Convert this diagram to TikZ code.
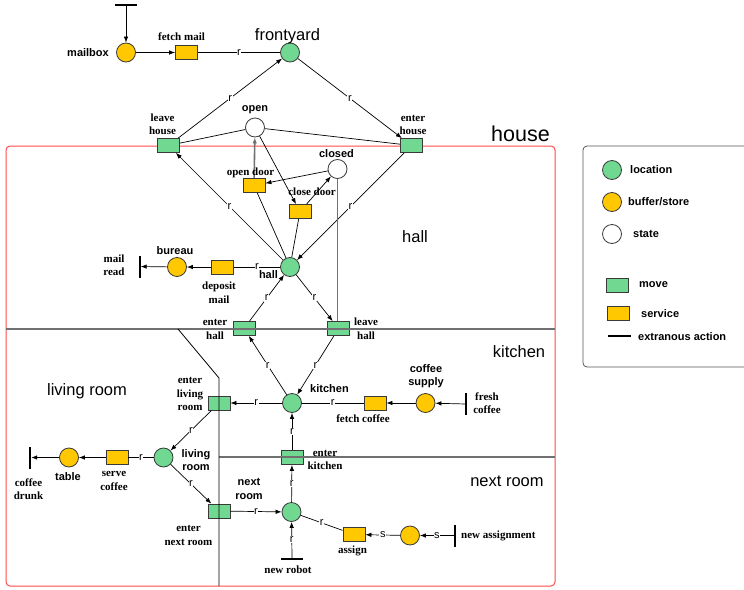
\documentclass[tikz,border=0pt]{standalone}
\usepackage{fontspec}
\setmainfont{Liberation Serif}
\setsansfont{Liberation Sans}
\usetikzlibrary{arrows.meta}

\definecolor{locgreen}{HTML}{70D890}
\definecolor{bufyellow}{HTML}{FFC800}
\definecolor{nodeborder}{HTML}{3A3A3A}
\definecolor{houseRed}{HTML}{FF4A4A}
\definecolor{wallgray}{HTML}{707070}
\definecolor{legendgray}{HTML}{555555}

\tikzset{
  place/.style={circle, draw=nodeborder, line width=0.8pt, minimum size=19pt, inner sep=0pt},
  locplace/.style={place, fill=locgreen},
  bufplace/.style={place, fill=bufyellow},
  stateplace/.style={place, fill=white},
  trans/.style={rectangle, draw=nodeborder, line width=0.8pt, minimum width=22pt, minimum height=14pt, inner sep=0pt},
  movetrans/.style={trans, fill=locgreen},
  servtrans/.style={trans, fill=bufyellow},
  hbar/.style={rectangle, fill=black, minimum width=22pt, minimum height=2pt, inner sep=0pt},
  vbar/.style={rectangle, fill=black, minimum width=2pt, minimum height=22pt, inner sep=0pt},
  placelbl/.style={font=\fontsize{11}{13.5}\selectfont\sffamily\bfseries, align=center, inner sep=0pt},
  translbl/.style={font=\fontsize{11}{13.5}\selectfont\rmfamily\bfseries, align=center, inner sep=0pt},
  region/.style={font=\fontsize{16.5}{18}\selectfont\sffamily, inner sep=0pt},
  arc/.style={line width=0.7pt, -{Latex[length=6pt,width=4.5pt]}},
  link/.style={line width=0.7pt},
  rlbl/.style={fill=white, inner sep=0.6pt, font=\fontsize{11}{11}\selectfont\sffamily},
  wall/.style={draw=wallgray, line width=1.3pt},
}

\begin{document}
\begin{tikzpicture}[x=1pt, y=-1pt]
\useasboundingbox (0,0) rectangle (744,589);

% house outline
\draw[houseRed, line width=1pt, rounded corners=4pt] (6,146) rectangle (555,586);

% ---------- places ----------
\node[bufplace]   (mailbox)   at (126,52.5) {};
\node[locplace]   (frontyard) at (290,52.5) {};
\node[stateplace] (open)      at (255,127.5) {};
\node[stateplace] (closed)    at (337.5,169) {};
\node[locplace]   (hall)      at (290,267) {};
\node[bufplace]   (bureau)    at (177,267) {};
\node[locplace]   (kitchen)   at (292,403) {};
\node[bufplace]   (coffeesup) at (425.5,403) {};
\node[locplace]   (living)    at (163.5,457.5) {};
\node[bufplace]   (table)     at (69,457.5) {};
\node[locplace]   (nextroom)  at (291.5,512) {};
\node[bufplace]   (assignbuf) at (410,535.5) {};

% ---------- transitions ----------
\node[servtrans] (fetchmail)  at (186.5,52.5) {};
\node[movetrans] (leavehouse) at (168.5,145.5) {};
\node[movetrans] (enterhouse) at (411.5,145.5) {};
\node[servtrans] (opendoor)   at (254,185.5) {};
\node[servtrans] (closedoor)  at (300,211.5) {};
\node[servtrans] (depositmail) at (222.5,267) {};
\node[movetrans] (enterhall)  at (244,328.5) {};
\node[movetrans] (leavehall)  at (338.5,328.5) {};
\node[movetrans] (enterliving) at (219,403) {};
\node[servtrans] (fetchcoffee) at (375,403) {};
\node[movetrans] (enterkitchen) at (292,457.5) {};
\node[servtrans] (servecoffee) at (117,457.5) {};
\node[movetrans] (enternext)  at (219,511) {};
\node[servtrans] (assign)     at (354,534.5) {};

% ---------- extraneous actions ----------
\node[hbar] (mailin)    at (126,5) {};
\node[vbar] (mailread)  at (139.5,266.5) {};
\node[vbar] (freshcof)  at (466,404) {};
\node[vbar] (cofdrunk)  at (30,457.5) {};
\node[hbar] (newrobot)  at (292,559) {};
\node[vbar] (newassign) at (455,535.5) {};

% ---------- connectors ----------
\draw[arc] (mailin) -- (mailbox);
\draw[arc] (mailbox) -- (fetchmail);
\draw[link] (fetchmail) -- node[rlbl]{r} (frontyard);
\draw[arc] (leavehouse) -- node[rlbl]{r} (frontyard);
\draw[arc] (frontyard) -- node[rlbl]{r} (enterhouse);
\draw[link] (leavehouse) -- (open);
\draw[link] (open) -- (enterhouse);
\draw[arc] (hall) -- node[rlbl]{r} (leavehouse);
\draw[arc] (enterhouse) -- node[rlbl]{r} (hall);

\draw[arc] (closed) -- (opendoor);
\draw[arc, draw=wallgray, line width=1.6pt] (opendoor) -- (open);
\draw[arc] (open) -- (closedoor);
\draw[arc] (closedoor) -- (closed);
\draw[link] (opendoor) -- (hall);
\draw[link] (closedoor) -- (hall);
\draw[draw=wallgray, line width=1.1pt] (closed.south) -- (closed.south |- leavehall.north);

\draw[link] (hall) -- node[rlbl]{r} (depositmail);
\draw[arc] (depositmail) -- (bureau);
\draw[arc] (bureau) -- (mailread);

\draw[arc] (enterhall) -- node[rlbl]{r} (hall);
\draw[arc] (hall) -- node[rlbl]{r} (leavehall);
\draw[arc] (kitchen) -- node[rlbl]{r} (enterhall);
\draw[arc] (leavehall) -- node[rlbl]{r} (kitchen);

\draw[arc] (kitchen) -- node[rlbl]{r} (enterliving);
\draw[link] (fetchcoffee) -- node[rlbl]{r} (kitchen);
\draw[arc] (coffeesup) -- (fetchcoffee);
\draw[arc] (freshcof) -- (coffeesup);

\draw[arc] (enterliving) -- node[rlbl]{r} (living);
\draw[arc] (enterkitchen) -- node[rlbl]{r} (kitchen);
\draw[link] (living) -- node[rlbl]{r} (servecoffee);
\draw[arc] (servecoffee) -- (table);
\draw[arc] (table) -- (cofdrunk);

\draw[arc] (living) -- node[rlbl]{r} (enternext);
\draw[arc] (enternext) -- node[rlbl]{r} (nextroom);
\draw[arc] (nextroom) -- node[rlbl]{r} (enterkitchen);
\draw[arc] (newrobot) -- node[rlbl]{r} (nextroom);
\draw[link] (nextroom) -- node[rlbl]{r} (assign);
\draw[arc] (assignbuf) -- node[rlbl]{s} (assign);
\draw[arc] (newassign) -- node[rlbl]{s} (assignbuf);

% ---------- room walls ----------
\draw[wall] (6,329) -- (555,329);
\draw[wall] (219,457) -- (555,457);
\draw[line width=0.8pt] (178,329) -- (219,378) -- (219,586);

% ---------- labels ----------
\node[placelbl, anchor=east] (lmailbox) at (109,53) {mailbox};
\node[translbl] (lfetchmail) at (181.5,37) {fetch mail};
\node[region] (lfrontyard) at (287.5,36) {frontyard};
\node[translbl] (lleavehouse) at (162.5,124) {leave\\house};
\node[translbl] (lenterhouse) at (413,125) {enter\\house};
\node[placelbl] (lopen) at (255,110) {open};
\node[region, font=\fontsize{21.5}{24}\selectfont\sffamily] (lhouse) at (520.5,134) {house};
\node[placelbl] (lclosed) at (336.5,154) {closed};
\node[translbl] (lopendoor) at (250.5,173) {open door};
\node[translbl] (lclosedoor) at (312,192) {close door};
\node[placelbl] (lhall) at (268.5,275) {hall};
\node[region] (rhall) at (415,237) {hall};
\node[placelbl] (lbureau) at (175,251) {bureau};
\node[translbl] (ldeposit) at (219,292.5) {deposit\\mail};
\node[translbl] (lmailread) at (114,265) {mail\\read};
\node[translbl] (lenterhall) at (215,329.5) {enter\\hall};
\node[translbl] (lleavehall) at (366,328.5) {leave\\hall};
\node[region] (rkitchen) at (519,352) {kitchen};
\node[placelbl] (lkitchen) at (329.5,389) {kitchen};
\node[translbl] (lenterliving) at (190,394) {enter\\living\\room};
\node[translbl] (lfetchcoffee) at (363,419) {fetch coffee};
\node[placelbl] (lcoffeesup) at (426,376) {coffee\\supply};
\node[translbl] (lfreshcof) at (487,403) {fresh\\coffee};
\node[region] (rliving) at (87,391) {living room};
\node[translbl] (lenterkitchen) at (325,460) {enter\\kitchen};
\node[placelbl] (lliving) at (196,460) {living\\room};
\node[translbl] (lservecoffee) at (114,481) {serve\\coffee};
\node[placelbl] (ltable) at (68,477) {table};
\node[translbl] (lcofdrunk) at (28.5,489) {coffee\\drunk};
\node[region] (rnextroom) at (507,481) {next room};
\node[placelbl] (lnextroom) at (249,489) {next\\room};
\node[translbl] (lenternext) at (188.5,535.5) {enter\\next room};
\node[translbl] (lnewrobot) at (288,570) {new robot};
\node[translbl] (lassign) at (352.5,551) {assign};
\node[translbl, anchor=west] (lnewassign) at (461,536) {new assignment};

% ---------- legend ----------
\draw[legendgray, line width=0.8pt, rounded corners=4pt] (583,146) rectangle (752,367);
\node[locplace]   (keyloc)   at (612,170) {};
\node[bufplace]   (keybuf)   at (612,202) {};
\node[stateplace] (keystate) at (612,234) {};
\node[movetrans]  (keymove)  at (617,285) {};
\node[servtrans]  (keyserv)  at (618,313) {};
\draw[line width=1.5pt] (608,336) -- (631,336);
\node[placelbl, anchor=west] (tloc)   at (630,170) {location};
\node[placelbl, anchor=west] (tbuf)   at (628,202) {buffer/store};
\node[placelbl, anchor=west] (tstate) at (633,234) {state};
\node[placelbl, anchor=west] (tmove)  at (639,285) {move};
\node[placelbl, anchor=west] (tserv)  at (641,314) {service};
\node[placelbl, anchor=west] (text)   at (638,337) {extranous action};
\end{tikzpicture}
\end{document}
